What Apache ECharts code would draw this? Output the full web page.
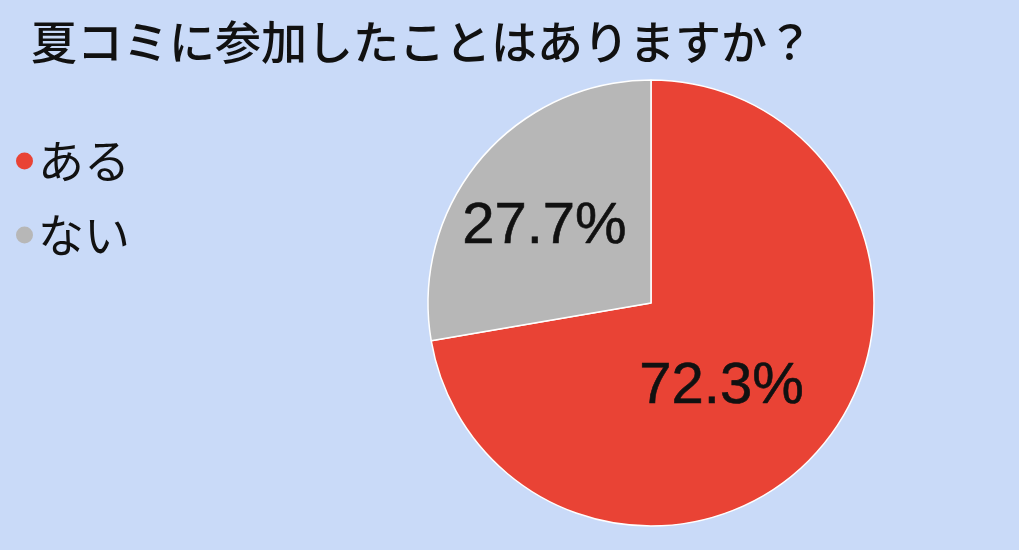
<!DOCTYPE html>
<html><head><meta charset="utf-8">
<script src="https://cdn.jsdelivr.net/npm/echarts@6/dist/echarts.min.js"></script>
<style>html,body{margin:0;padding:0;background:#c9daf8;}#c{width:1019px;height:550px;}</style>
</head><body><div id="c"></div>
<script>
const titleText = '夏コミに参加したことはありますか？';
const categories = ['ある', 'ない'];
const values = [72.3, 27.7];
const colors = ['#e94335', '#b7b7b7'];
const labelOffsets = [[-17, 10], [-19, -2]];

const chart = echarts.init(document.getElementById('c'));
chart.setOption({
  backgroundColor: '#c9daf8',
  animation: false,
  title: {
    text: titleText, left: 26, top: 14,
    textStyle: {fontFamily: 'Noto Sans CJK JP', fontSize: 46, fontWeight: 500, color: '#111'}
  },
  legend: {
    orient: 'vertical', left: 11, top: 133, icon: 'circle',
    itemWidth: 17, itemHeight: 17, itemGap: 28,
    itemStyle: {borderWidth: 0},
    textStyle: {fontFamily: 'Noto Sans CJK JP', fontSize: 46, color: '#111', padding: [0,0,0,0]},
    data: categories
  },
  series: [{
    type: 'pie', center: [651, 303], radius: 223, startAngle: 90, clockwise: true,
    color: colors,
    itemStyle: {borderColor: '#ffffff', borderWidth: 1.5},
    label: {
      position: 'inside', formatter: p => p.value.toFixed(1) + '%',
      fontFamily: 'Liberation Sans', fontSize: 58, fontWeight: 'normal', color: '#111',
      textBorderColor: '#111', textBorderWidth: 0.6
    },
    labelLine: {show: false},
    data: categories.map((c, i) => ({name: c, value: values[i], label: {offset: labelOffsets[i]}}))
  }]
});
</script></body></html>
